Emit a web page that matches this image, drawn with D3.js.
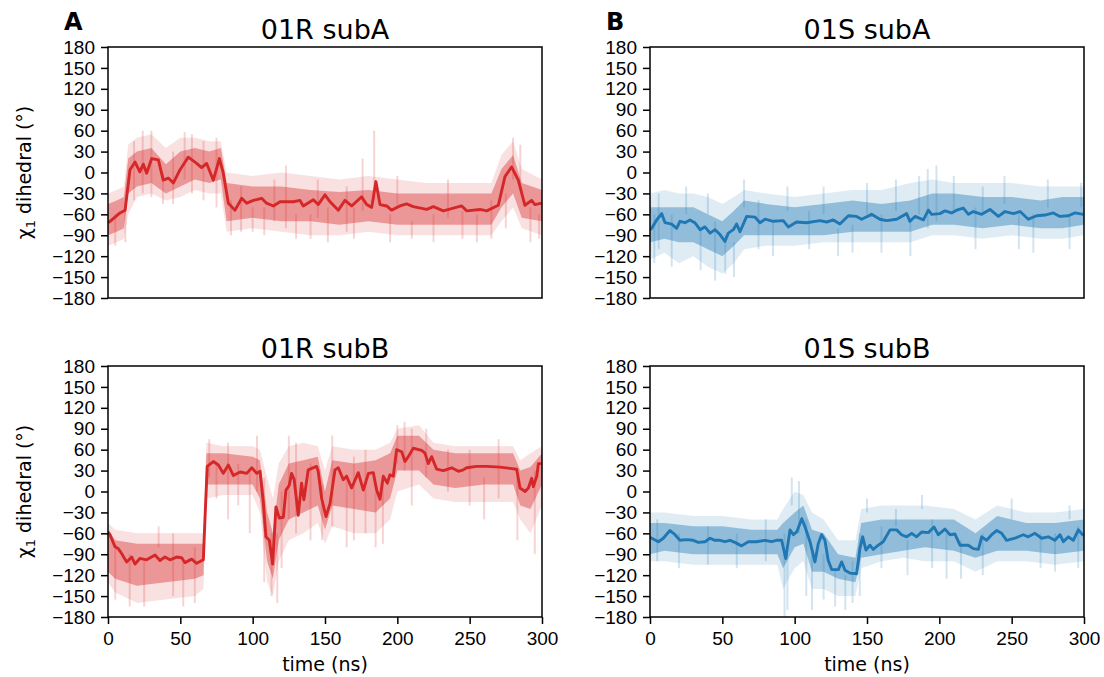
<!DOCTYPE html>
<html>
<head>
<meta charset="utf-8">
<script src="https://cdn.jsdelivr.net/npm/d3@7"></script>
<style>
  body { margin: 0; background: #fff; }
  svg { font-family: "DejaVu Sans", sans-serif; }
  .tick text { font-size: 19px; fill: #000; }
  .tick line { stroke: #000; stroke-width: 1.5; }
</style>
</head>
<body>
<div id="chart"></div>
<script>
// axis ticks
var timeTicks = [0, 50, 100, 150, 200, 250, 300];
var angleTicks = [-180, -150, -120, -90, -60, -30, 0, 30, 60, 90, 120, 150, 180];

// running mean of chi1, [time ns, degrees]
var meanRA = [[0,-72],[1.4,-70],[8.3,-58],[11.8,-54],[15.2,4],[18.7,15],[22,1],[24.4,12],[26.7,-1],[30.2,20],[34.8,18],[38.2,-11],[41.7,-8],[45.2,-15],[49.8,4],[55.5,22],[61.3,13],[64.7,7],[68.2,13],[72.8,-11],[77,20],[79.7,-1],[83.2,-44],[87.8,-54],[92.4,-37],[95.9,-44],[100.5,-40],[106.2,-37],[109.6,-44],[114.3,-48],[118.9,-42],[128.1,-42],[132.7,-40],[135,-48],[141.9,-39],[145.3,-46],[150,-32],[153.5,-42],[159.2,-54],[163.8,-40],[168.4,-48],[175.3,-35],[178.8,-46],[182.3,-50],[185.2,-13],[188,-46],[192.6,-48],[196,-54],[201.8,-48],[206.4,-45],[211,-49],[220.3,-53],[224.9,-49],[231.8,-55],[238.7,-51],[244.5,-48],[248,-55],[257.2,-53],[261.8,-55],[269.8,-47],[274.4,-6],[279,8],[283.6,-11],[288.2,-47],[292.8,-40],[295.1,-46],[299.7,-44]];
var meanSA = [[0,-82],[1.2,-80],[4.6,-68],[8.1,-59],[10.4,-72],[15,-74],[18.4,-80],[20.7,-70],[24.2,-72],[27.6,-68],[31,-72],[34.6,-82],[38,-78],[41.5,-87],[45,-82],[48.4,-89],[51.8,-99],[54.1,-87],[57.6,-82],[59.9,-74],[62.2,-85],[66.8,-63],[72.6,-64],[76,-72],[79.5,-67],[85.2,-70],[92.1,-69],[95.6,-78],[101.3,-71],[108.2,-72],[117.5,-69],[122.1,-71],[126.7,-68],[131.3,-74],[137.1,-62],[142.8,-63],[146.3,-67],[153.2,-60],[158.9,-67],[163.6,-69],[170.5,-67],[177.4,-59],[179.7,-70],[183.2,-63],[189,-68],[192.4,-54],[194.7,-60],[200.5,-59],[203.9,-55],[208.5,-58],[212,-54],[216.6,-51],[220.1,-60],[223.5,-56],[229.3,-60],[235,-53],[240.8,-63],[245.4,-56],[251.2,-59],[255.8,-56],[261.5,-67],[267.3,-62],[273.1,-61],[278.8,-58],[283.4,-63],[289.2,-62],[293.8,-58],[299.5,-60]];
var meanRB = [[0,-58],[1.4,-62],[4.8,-79],[7.1,-82],[9.4,-89],[12.9,-101],[16.4,-94],[18.7,-104],[22,-96],[26.7,-98],[32.5,-91],[35.9,-99],[39.4,-94],[42.8,-98],[47.4,-94],[50.9,-95],[53.2,-102],[57.8,-97],[61.3,-103],[65.9,-98],[67,-41],[68.6,36],[72.8,43],[76.3,38],[79.7,26],[83.2,38],[86.6,23],[91.3,28],[95.9,26],[99.4,34],[102.8,26],[105.1,29],[107.4,-17],[109.2,-65],[111.5,-70],[113.8,-104],[116.1,-22],[118.4,-38],[121.2,-37],[123,2],[125.3,9],[126.9,26],[128.7,17],[131.5,-34],[133.8,12],[135.4,-12],[138.4,31],[144.2,36],[145.3,29],[147.7,-10],[150.7,-36],[153.5,-17],[156.9,31],[159.2,34],[162.6,17],[164.9,22],[168.4,5],[173,27],[176.5,2],[180,26],[183.4,27],[185.7,2],[188,-11],[190.3,22],[193.1,12],[194.9,24],[197.2,22],[199.5,60],[203,57],[205.3,43],[207.6,50],[211,62],[216.8,59],[219.1,55],[221.4,40],[223.7,50],[227.2,32],[231.8,30],[237.6,34],[242.2,29],[245.6,31],[247.9,34],[254.8,36],[261.8,36],[271,35],[282.5,32],[284.8,5],[288.3,0],[290.6,5],[292.9,19],[294,7],[296.4,22],[297.5,40],[299.8,40]];
var meanSB = [[0,-66],[1.2,-67],[5.8,-72],[9.2,-67],[13.8,-56],[17.3,-62],[20.7,-70],[25.3,-69],[29.9,-70],[33.4,-73],[38,-72],[41.5,-67],[44.9,-70],[48.4,-70],[51.8,-72],[55.3,-70],[58.7,-73],[63.3,-78],[67.9,-72],[73.7,-72],[79.5,-70],[84,-72],[87.5,-70],[91,-70],[93.8,-96],[96.8,-55],[99.1,-62],[101.4,-58],[104.9,-39],[107.2,-51],[110.6,-72],[114,-101],[116.3,-75],[118.6,-62],[120.9,-70],[123.2,-99],[125.6,-112],[130.2,-112],[132.5,-101],[134.8,-113],[138.2,-117],[142.8,-118],[145.1,-82],[147,-65],[149.3,-84],[152,-77],[154.3,-83],[157.8,-77],[161.2,-72],[165.9,-55],[170.5,-55],[173.9,-62],[177.4,-65],[180.9,-60],[184.3,-65],[187.8,-58],[192.4,-59],[196.3,-51],[199.3,-62],[203.9,-54],[207.4,-62],[210.8,-61],[214.3,-77],[220,-77],[223.5,-82],[227,-83],[229.3,-65],[232.7,-70],[236.2,-62],[239.6,-56],[243.1,-60],[246.5,-70],[252.3,-67],[258,-62],[261.5,-65],[266.1,-60],[270.7,-67],[275.3,-65],[279.9,-70],[283.4,-62],[285.7,-72],[289.2,-65],[292.6,-70],[296.1,-55],[299.5,-63]];

// spread of the raw traces, [time, outer low, inner low, inner high, outer high]
var bandRA = [[0,-105,-90,-45,-30],[6,-100,-85,-40,-25],[11,-95,-80,-35,-20],[14,-60,-30,20,40],[20,-35,-20,30,50],[30,-30,-15,35,55],[40,-40,-30,12,35],[50,-35,-20,30,50],[60,-25,-10,35,50],[70,-30,-15,30,45],[78,-30,-10,35,45],[82,-85,-70,-15,0],[100,-80,-65,-20,-5],[120,-85,-70,-20,0],[140,-90,-70,-25,-5],[160,-90,-75,-28,-10],[180,-85,-70,-25,-5],[200,-90,-75,-30,-10],[220,-90,-75,-30,-15],[240,-90,-75,-30,-15],[265,-90,-75,-30,-15],[272,-70,-50,5,25],[280,-50,-30,25,45],[286,-80,-65,-15,5],[300,-90,-70,-25,-10]];
var bandSA = [[0,-125,-100,-50,-30],[10,-115,-95,-50,-25],[20,-130,-100,-50,-30],[30,-120,-100,-50,-30],[40,-135,-110,-60,-35],[50,-145,-120,-70,-45],[58,-130,-105,-55,-35],[65,-110,-90,-40,-25],[80,-105,-90,-45,-30],[100,-105,-90,-50,-35],[120,-100,-90,-45,-30],[140,-100,-85,-40,-25],[160,-100,-85,-45,-25],[180,-100,-85,-40,-15],[195,-90,-75,-30,-10],[210,-90,-75,-30,-15],[230,-95,-80,-35,-15],[250,-90,-75,-35,-15],[270,-95,-80,-40,-20],[285,-95,-80,-35,-20],[300,-90,-75,-35,-20]];
var bandRB = [[0,-130,-115,-55,-45],[5,-145,-125,-70,-55],[20,-160,-135,-75,-60],[40,-155,-130,-75,-60],[60,-150,-125,-75,-60],[66,-140,-120,-75,-60],[68,-10,10,55,70],[80,-5,10,55,65],[100,-5,10,50,65],[105,-30,-10,45,60],[110,-130,-100,-30,20],[114,-150,-125,-60,-10],[118,-100,-70,10,40],[125,-70,-40,40,65],[135,-60,-30,45,70],[145,-45,-20,50,65],[150,-75,-55,0,30],[155,-50,-20,45,65],[170,-60,-25,40,60],[185,-60,-30,45,60],[195,-40,-10,55,70],[200,0,30,80,90],[215,10,30,80,95],[225,-10,10,60,70],[240,-15,5,55,65],[260,-15,10,55,65],[280,-15,10,55,65],[285,-40,-20,30,45],[292,-60,-25,35,55],[300,-20,10,55,65]];
var bandSB = [[0,-100,-90,-45,-30],[10,-100,-85,-45,-30],[30,-105,-90,-50,-35],[50,-105,-90,-50,-35],[70,-105,-90,-55,-40],[88,-105,-90,-55,-40],[92,-140,-110,-45,-25],[100,-110,-80,-30,0],[106,-100,-75,-20,-5],[112,-140,-115,-55,-30],[120,-140,-115,-60,-40],[130,-150,-125,-90,-70],[142,-150,-130,-95,-70],[146,-110,-95,-45,-25],[160,-100,-90,-40,-20],[175,-95,-85,-40,-20],[190,-100,-80,-40,-20],[210,-100,-85,-40,-25],[225,-115,-95,-60,-40],[240,-100,-85,-35,-20],[260,-100,-85,-45,-30],[280,-105,-90,-45,-30],[300,-100,-85,-40,-25]];

// single excursions of raw frames, [time, low, high]
var spikesRA = [[5,-105,-60],[12,-100,-50],[18,-40,45],[24,-30,60],[30,-35,60],[38,-45,0],[45,-45,30],[53,-10,58],[58,-30,55],[66,-40,45],[75,-50,50],[85,-90,-40],[92,-85,-20],[100,-85,-50],[108,-90,-50],[115,-70,-10],[123,-80,10],[130,-95,-60],[140,-95,-60],[145,-65,-10],[152,-100,-50],[165,-85,-20],[170,-95,-50],[176,-55,20],[184,-40,60],[195,-100,-60],[200,-50,-5],[210,-95,-70],[225,-100,-60],[235,-65,-10],[245,-95,-55],[255,-100,-60],[265,-95,-40],[275,-80,-30],[280,-10,50],[285,-20,40],[292,-100,-50],[298,-95,-60]];
var spikesSA = [[3,-130,-60],[6,-110,-30],[15,-135,-60],[25,-60,-20],[35,-140,-80],[40,-60,-30],[45,-155,-70],[52,-145,-90],[58,-150,-100],[65,-50,-10],[75,-110,-40],[85,-120,-70],[95,-55,-20],[110,-110,-55],[120,-60,-20],[130,-120,-80],[140,-115,-75],[150,-60,-15],[160,-115,-60],[170,-55,-10],[180,-120,-70],[186,-60,-5],[192,-80,5],[198,-70,10],[210,-55,-5],[225,-110,-50],[230,-60,-20],[245,-45,-5],[255,-110,-60],[265,-115,-60],[275,-50,-10],[290,-110,-60],[298,-50,-15]];
var spikesRB = [[5,-155,-80],[15,-165,-90],[25,-165,-100],[35,-80,-50],[45,-150,-60],[52,-165,-100],[60,-160,-80],[70,20,75],[75,-10,40],[83,-40,70],[90,-20,40],[98,-60,30],[103,0,80],[108,-130,20],[113,-150,-60],[117,-160,-60],[120,-110,0],[125,-40,80],[130,-60,70],[140,-70,40],[148,-70,10],[155,-50,80],[165,-80,20],[170,-70,50],[178,-60,60],[185,-80,0],[190,-75,10],[200,40,95],[205,30,100],[210,-20,90],[220,20,90],[235,0,60],[250,-20,60],[260,-40,20],[270,-10,75],[283,-70,20],[295,-90,30],[300,-100,60]];
var spikesSB = [[5,-100,-40],[20,-110,-60],[40,-105,-50],[60,-110,-60],[80,-100,-40],[93,-180,-60],[95,-170,-90],[98,-20,20],[103,-60,15],[108,-150,-40],[112,-170,-90],[120,-155,-90],[128,-165,-110],[135,-170,-120],[140,-160,-100],[145,-150,-60],[150,-30,-10],[160,-110,-50],[170,-50,-25],[178,-120,-70],[188,-25,-5],[195,-110,-40],[205,-125,-60],[215,-125,-70],[230,-120,-60],[250,-40,-10],[270,-110,-60],[280,-115,-60],[290,-40,-20],[296,-110,-50],[300,-40,-15]];

var panels = [
    { title: "01R subA", mean: meanRA, band: bandRA, spikes: spikesRA, color: "#d62728", col: 0, row: 0, letter: "A" },
    { title: "01S subA", mean: meanSA, band: bandSA, spikes: spikesSA, color: "#1f77b4", col: 1, row: 0, letter: "B" },
    { title: "01R subB", mean: meanRB, band: bandRB, spikes: spikesRB, color: "#d62728", col: 0, row: 1 },
    { title: "01S subB", mean: meanSB, band: bandSB, spikes: spikesSB, color: "#1f77b4", col: 1, row: 1 }
];

var W = 1104, H = 677;
var pw = 434, ph = 251;
var lefts = [108, 650], tops = [47, 366];

var svg = d3.select("#chart").append("svg")
    .attr("width", W)
    .attr("height", H);

var x = d3.scaleLinear().domain([0, 300]).range([0, pw]);
var y = d3.scaleLinear().domain([-180, 180]).range([ph, 0]);

panels.forEach(function(p, i) {
    var g = svg.append("g")
        .attr("transform", "translate(" + lefts[p.col] + "," + tops[p.row] + ")");

    g.append("clipPath").attr("id", "clip" + i)
        .append("rect").attr("width", pw).attr("height", ph);

    var plot = g.append("g").attr("clip-path", "url(#clip" + i + ")");

    var outer = d3.area()
        .x(function(d) { return x(d[0]); })
        .y0(function(d) { return y(d[1]); })
        .y1(function(d) { return y(d[4]); });
    var inner = d3.area()
        .x(function(d) { return x(d[0]); })
        .y0(function(d) { return y(d[2]); })
        .y1(function(d) { return y(d[3]); });

    plot.append("path").datum(p.band)
        .attr("d", outer)
        .attr("fill", p.color)
        .attr("fill-opacity", 0.14);

    plot.selectAll(".spike").data(p.spikes).enter()
        .append("line")
        .attr("x1", function(d) { return x(d[0]); })
        .attr("x2", function(d) { return x(d[0]); })
        .attr("y1", function(d) { return y(d[1]); })
        .attr("y2", function(d) { return y(d[2]); })
        .attr("stroke", p.color)
        .attr("stroke-width", 2)
        .attr("stroke-opacity", 0.2);

    plot.append("path").datum(p.band)
        .attr("d", inner)
        .attr("fill", p.color)
        .attr("fill-opacity", 0.4);

    var line = d3.line()
        .x(function(d) { return x(d[0]); })
        .y(function(d) { return y(d[1]); });

    plot.append("path").datum(p.mean)
        .attr("d", line)
        .attr("fill", "none")
        .attr("stroke", p.color)
        .attr("stroke-width", 2.9)
        .attr("stroke-linejoin", "round");

    // axes
    var yAxis = d3.axisLeft(y).tickValues(angleTicks)
        .tickSize(7).tickPadding(6).tickSizeOuter(0);
    var yg = g.append("g").call(yAxis);
    yg.select(".domain").remove();

    if (p.row === 1) {
        var xAxis = d3.axisBottom(x).tickValues(timeTicks)
            .tickSize(7).tickPadding(8).tickSizeOuter(0);
        var xg = g.append("g")
            .attr("transform", "translate(0," + ph + ")")
            .call(xAxis);
        xg.select(".domain").remove();

        g.append("text")
            .attr("x", pw / 2)
            .attr("y", ph + 54)
            .attr("text-anchor", "middle")
            .attr("font-size", 19)
            .text("time (ns)");
    }

    g.append("rect")
        .attr("width", pw).attr("height", ph)
        .attr("fill", "none")
        .attr("stroke", "#000")
        .attr("stroke-width", 1.5);

    g.append("text")
        .attr("x", pw / 2)
        .attr("y", -8)
        .attr("text-anchor", "middle")
        .attr("font-size", 27)
        .text(p.title);

    if (p.letter) {
        g.append("text")
            .attr("x", -44)
            .attr("y", -17)
            .attr("font-size", 24)
            .attr("font-weight", "bold")
            .text(p.letter);
    }

    if (p.col === 0) {
        var yl = g.append("text")
            .attr("transform", "translate(-77," + ph / 2 + ") rotate(-90)")
            .attr("text-anchor", "middle")
            .attr("font-size", 19);
        yl.append("tspan").text("χ");
        yl.append("tspan").attr("font-size", 13).attr("dy", 4).text("1");
        yl.append("tspan").attr("dy", -4).text(" dihedral (°)");
    }
});
</script>
</body>
</html>
